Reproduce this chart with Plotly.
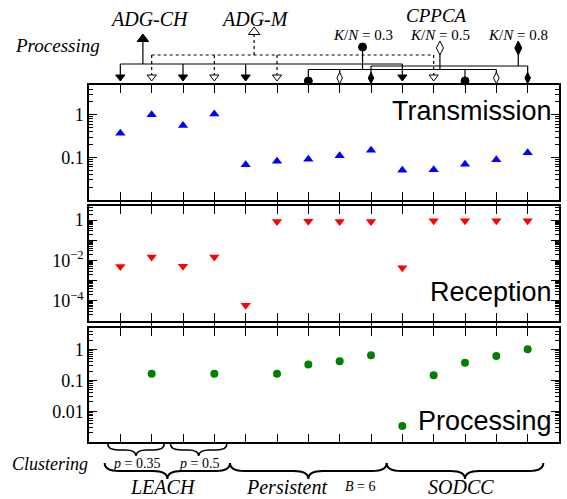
import plotly.graph_objects as go

# ---------------- data ----------------
positions = list(range(1, 15))
transmission = [0.37, 1.0, 0.56, 1.05, 0.067, 0.081, 0.091, 0.11, 0.148, 0.050, 0.051, 0.069, 0.088, 0.128]
reception = [0.005, 0.015, 0.0052, 0.015, 0.000061, 0.86, 0.89, 0.86, 0.86, 0.0043, 0.93, 0.93, 0.93, 0.93]
processing = [None, 0.163, None, 0.163, None, 0.163, 0.33, 0.42, 0.66, 0.0033, 0.147, 0.37, 0.62, 1.02]
processing_method = ["ADG-CH", "ADG-M", "ADG-CH", "ADG-M", "ADG-CH", "ADG-M",
                     "K/N = 0.3", "K/N = 0.5", "K/N = 0.8",
                     "ADG-CH", "ADG-M", "K/N = 0.3", "K/N = 0.5", "K/N = 0.8"]
clustering_names = ["LEACH", "Persistent", "SODCC"]
clustering_spans = [(1, 4), (5, 9), (10, 14)]
leach_params = ["p = 0.35", "p = 0.5"]
leach_spans = [(1, 2), (3, 4)]

# ---------------- geometry ----------------
W, H = 567, 499
L, R = 89, 8
PW = W - L - R
XMAX = 15.0


def pyp(p):  # pixel y -> paper y
    return (H - p) / H


def pxp(p):  # pixel x -> paper x
    return (p - L) / PW


def dx(x):  # data x -> pixel x
    return L + x / XMAX * PW


SERIF = "Liberation Serif"
SANS = "Liberation Sans"

fig = go.Figure()

panels = [
    ("y", "x", transmission, "triangle-up", "#0000ff", 9, (85, 200), (-2, 0.7),
     [1, 0.1], ["1", "0.1"], []),
    ("y2", "x2", reception, "triangle-down", "#ff0000", 9, (206, 321), (-5, 0.7),
     [1, 0.01, 1e-4], ["1", "10<sup>−2</sup>", "10<sup>−4</sup>"], [0.1, 0.001]),
    ("y3", "x3", processing, "circle", "#008000", 8, (328, 442), (-3, 0.7),
     [1, 0.1, 0.01], ["1", "0.1", "0.01"], []),
]

for ya, xa, vals, sym, col, size, *_ in panels:
    fig.add_trace(go.Scatter(x=positions, y=vals, mode="markers", xaxis=xa, yaxis=ya,
                             marker=dict(symbol=sym, color=col, size=size, line=dict(width=0)),
                             showlegend=False, cliponaxis=False))

layout = dict(width=W, height=H, margin=dict(l=L, r=R, t=0, b=0),
              plot_bgcolor="white", paper_bgcolor="white", showlegend=False)

extra_axis = 5
for i, (ya, xa, vals, sym, col, size, (ptop, pbot), (lo, hi), tv, tt, unl) in enumerate(panels):
    xk = "xaxis" if xa == "x" else "xaxis" + xa[1:]
    yk = "yaxis" if ya == "y" else "yaxis" + ya[1:]
    minor_vals = []
    for e in range(int(lo) - 1, 2):
        for k in range(2, 10):
            minor_vals.append(k * 10.0 ** e)
    layout[xk] = dict(domain=[0, 1], range=[0, XMAX], anchor=ya, tickvals=positions,
                      showticklabels=False, ticks="inside", ticklen=8, tickwidth=1,
                      showline=True, linecolor="black", linewidth=1.5, mirror="allticks",
                      showgrid=False, zeroline=False, tickcolor="black")
    if xa != "x":
        layout[xk]["matches"] = "x"
    dom = [pyp(pbot), pyp(ptop)]
    layout[yk] = dict(domain=dom, type="log", range=[lo, hi], anchor=xa,
                      tickmode="array", tickvals=tv, ticktext=tt, ticks="inside", ticklen=8,
                      tickwidth=1, tickcolor="black",
                      showline=True, linecolor="black", linewidth=1.5, mirror="allticks",
                      showgrid=False, zeroline=False,
                      tickfont=dict(family=SERIF, size=18, color="black"),
                      minor=dict(tickmode="array", tickvals=minor_vals, ticks="inside",
                                 ticklen=4, tickwidth=1, tickcolor="black", showgrid=False))
    if unl:
        yname = "y%d" % extra_axis
        layout["yaxis%d" % extra_axis] = dict(domain=dom, type="log", range=[lo, hi], anchor=xa,
                                              overlaying=ya, tickmode="array", tickvals=unl,
                                              showticklabels=False, ticks="inside", ticklen=8,
                                              tickwidth=1, tickcolor="black", showline=True,
                                              linecolor="black", linewidth=1.5, mirror="allticks",
                                              showgrid=False, zeroline=False)
        fig.add_trace(go.Scatter(x=[None], y=[None], xaxis=xa, yaxis=yname, mode="markers",
                                 showlegend=False, hoverinfo="skip"))
        extra_axis += 1

# diagram axes in pixel-like coordinates
layout["xaxis4"] = dict(domain=[0, 1], range=[0, XMAX], anchor="y4", visible=False)
layout["yaxis4"] = dict(domain=[pyp(85), 1], range=[85, 0], anchor="x4", visible=False)

fig.update_layout(**layout)

# ---------------- processing diagram ----------------
styles = {
    "ADG-CH": dict(sym="triangle-down", fill="black", my=77, bus=64, dash="solid", lx=1.72, ly=39,
                   lsym="triangle-up", lsize=10),
    "ADG-M": dict(sym="triangle-down", fill="white", my=77, bus=55, dash="dot", lx=5.27, ly=32,
                  lsym="triangle-up", lsize=10),
    "K/N = 0.3": dict(sym="circle", fill="black", my=81, bus=69.5, dash="solid", lx=8.73, ly=47,
                      lsym="circle", lsize=8),
    "K/N = 0.5": dict(sym="diamond-tall", fill="white", my=78, bus=69.5, dash="solid", lx=11.2, ly=48,
                      lsym="diamond-tall", lsize=10),
    "K/N = 0.8": dict(sym="diamond-tall", fill="black", my=78, bus=66, dash="solid", lx=13.7, ly=48,
                      lsym="diamond-tall", lsize=10),
}

for method, st in styles.items():
    pts = [p for p, m in zip(positions, processing_method) if m == method]
    xs, ys = [], []
    xs += [min(pts + [st["lx"]]), max(pts + [st["lx"]]), None]
    ys += [st["bus"], st["bus"], None]
    for p in pts:
        xs += [p, p, None]
        ys += [st["bus"], st["my"], None]
    xs += [st["lx"], st["lx"]]
    ys += [st["bus"], st["ly"]]
    fig.add_trace(go.Scatter(x=xs, y=ys, mode="lines", xaxis="x4", yaxis="y4",
                             line=dict(color="black", width=1.2, dash=st["dash"]),
                             showlegend=False, hoverinfo="skip", cliponaxis=False))
for method, st in styles.items():
    pts = [p for p, m in zip(positions, processing_method) if m == method]
    fig.add_trace(go.Scatter(x=pts, y=[st["my"]] * len(pts), mode="markers", xaxis="x4", yaxis="y4",
                             marker=dict(symbol=st["sym"], size=8, color=st["fill"],
                                         line=dict(color="black", width=1)),
                             showlegend=False, cliponaxis=False))
    fig.add_trace(go.Scatter(x=[st["lx"]], y=[st["ly"]], mode="markers", xaxis="x4", yaxis="y4",
                             marker=dict(symbol=st["lsym"], size=st["lsize"], color=st["fill"],
                                         line=dict(color="black", width=1)),
                             showlegend=False, cliponaxis=False))

annotations = []


def ann(text, px, py, size, family=SERIF, xanchor="center", yanchor="middle"):
    annotations.append(dict(text=text, x=pxp(px), y=pyp(py), xref="paper", yref="paper",
                            showarrow=False, xanchor=xanchor, yanchor=yanchor,
                            font=dict(family=family, size=size, color="black")))


ann("<i>ADG-CH</i>", 149, 19, 20)
ann("<i>ADG-M</i>", 255, 19, 20)
ann("<i>CPPCA</i>", 436, 15, 19)
ann("<i>Processing</i>", 57, 46, 19)
for method, st in styles.items():
    if method.startswith("K/N"):
        val = method.split("= ")[1]
        ann("<i>K</i>/<i>N</i> = " + val, dx(st["lx"]), 35, 15)

# panel labels
ann("Transmission", 554, 111, 27, SANS, xanchor="right")
ann("Reception", 554, 292, 27, SANS, xanchor="right")
ann("Processing", 554, 421, 27, SANS, xanchor="right")

# ---------------- clustering braces ----------------
shapes = []


def brace(x0, x1, ytop, depth, width=1.8):
    xm = (x0 + x1) / 2
    ym = ytop + depth / 2
    yt = ytop + depth
    r = min(depth * 0.9, (x1 - x0) / 5)
    pts = lambda x, y: f"{pxp(x):.5f},{pyp(y):.5f}"
    path = (f"M {pts(x0, ytop)} Q {pts(x0, ym)} {pts(x0 + r, ym)} L {pts(xm - r, ym)} "
            f"Q {pts(xm, ym)} {pts(xm, yt)} Q {pts(xm, ym)} {pts(xm + r, ym)} "
            f"L {pts(x1 - r, ym)} Q {pts(x1, ym)} {pts(x1, ytop)}")
    shapes.append(dict(type="path", path=path, xref="paper", yref="paper",
                       line=dict(color="black", width=width)))


for name, (a, b) in zip(leach_params, leach_spans):
    c = (a + b) / 2
    brace(dx(c - 0.9), dx(c + 0.9), 444, 12, 1.6)
    ann(name.replace("p", "<i>p</i>", 1), dx(c), 463, 14)

for name, (a, b) in zip(clustering_names, clustering_spans):
    x0, x1 = dx(a - 0.5), dx(b + 0.5)
    brace(x0, x1, 463, 16, 2)
    if name == "Persistent":
        ann("<i>Persistent</i>", (x0 + x1) / 2 - 22, 487, 20)
        ann("<i>B</i> = 6", (x0 + x1) / 2 + 52, 486, 14)
    else:
        ann("<i>" + name + "</i>", (x0 + x1) / 2 - 4, 487, 20)

ann("<i>Clustering</i>", 50, 464, 18)

fig.update_layout(annotations=annotations, shapes=shapes)
fig.write_html("out.html", config={"displayModeBar": False},
               post_script="document.body.style.margin='0px';")
